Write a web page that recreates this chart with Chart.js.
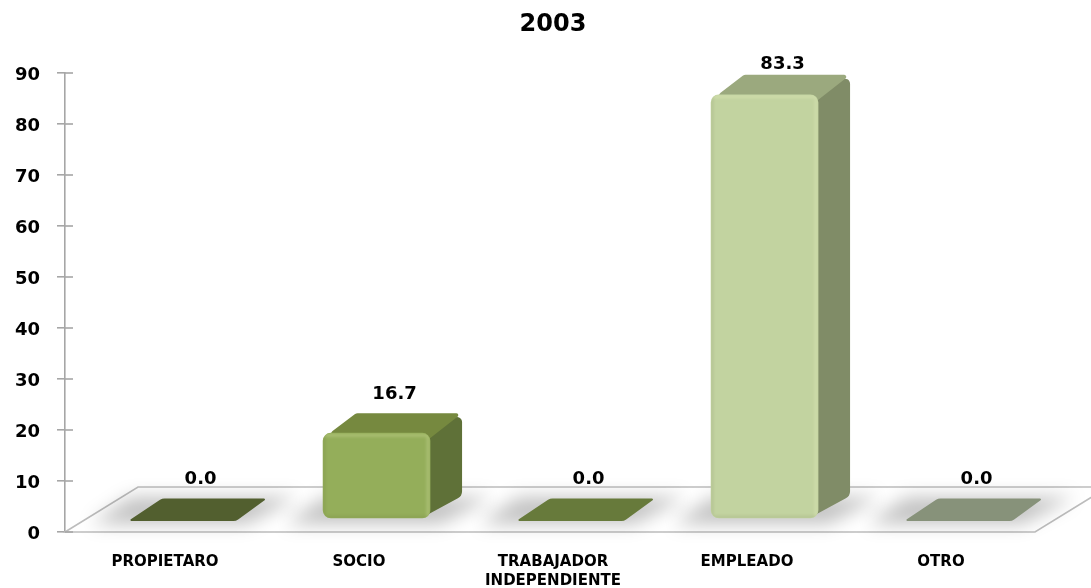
<!DOCTYPE html>
<html>
<head>
<meta charset="utf-8">
<script src="https://cdn.jsdelivr.net/npm/chart.js@4/dist/chart.umd.min.js"></script>
<style>html,body{margin:0;padding:0;background:#fff}canvas{display:block;filter:blur(0.35px)}</style>
</head>
<body>
<canvas id="c" width="1091" height="588"></canvas>
<script>
const titleText = '2003';
const categories = ['PROPIETARO', 'SOCIO', ['TRABAJADOR', 'INDEPENDIENTE'], 'EMPLEADO', 'OTRO'];
const values = [0.0, 16.7, 0.0, 83.3, 0.0];
const frontColors = ['#525F2F', '#94AE5A', '#677A3B', '#C2D3A0', '#87927A'];
const topColors = ['#525F2F', '#76893F', '#677A3B', '#9BA97E', '#87927A'];
const sideColors = ['#525F2F', '#5F7138', '#677A3B', '#808C67', '#87927A'];

const FONT = '"DejaVu Sans", sans-serif';
const DEPTH_X = 32, DEPTH_Y = 20;

function roundedPoly(ctx, pts, radii) {
  ctx.beginPath();
  const n = pts.length;
  ctx.moveTo((pts[0][0] + pts[n - 1][0]) / 2, (pts[0][1] + pts[n - 1][1]) / 2);
  for (let i = 0; i < n; i++) {
    const a = pts[i], b = pts[(i + 1) % n];
    ctx.arcTo(a[0], a[1], b[0], b[1], radii[i]);
  }
  ctx.closePath();
}

const floorPlugin = {
  id: 'floor3d',
  afterLayout(chart) {
    chart.titleBlock.left += 3;
    chart.titleBlock.right += 3;
  },
  beforeDatasetsDraw(chart) {
    const ctx = chart.ctx, area = chart.chartArea;
    const y = chart.scales.y;
    const y0 = y.getPixelForValue(0);
    const yBack = y0 - 45, dx = 73;
    ctx.save();
    ctx.strokeStyle = '#BDBDBD';
    ctx.lineWidth = 1.6;
    ctx.beginPath();
    ctx.moveTo(area.left, y0);
    ctx.lineTo(area.left + dx, yBack);
    ctx.lineTo(area.right + dx, yBack);
    ctx.lineTo(area.right, y0);
    ctx.closePath();
    ctx.stroke();
    ctx.strokeStyle = '#A6A6A6';
    y.ticks.forEach(t => {
      const p = y.getPixelForValue(t.value);
      ctx.beginPath();
      ctx.moveTo(area.left, p);
      ctx.lineTo(area.left + 8, p);
      ctx.stroke();
    });
    ctx.restore();

    const bars = chart.getDatasetMeta(0).data;
    bars.forEach(el => {
      const p = el.getProps(['x', 'base', 'width'], true);
      const L = p.x - p.width / 2, R = p.x + p.width / 2;
      ctx.save();
      ctx.filter = 'blur(9px)';
      ctx.fillStyle = 'rgba(0,0,0,0.24)';
      ctx.beginPath();
      ctx.moveTo(L - 38, p.base + 6);
      ctx.lineTo(R + 10, p.base + 6);
      ctx.lineTo(R + DEPTH_X + 30, p.base - DEPTH_Y - 1);
      ctx.lineTo(L + 2, p.base - DEPTH_Y - 1);
      ctx.closePath();
      ctx.fill();
      ctx.restore();
    });

    bars.forEach((el, i) => {
      const p = el.getProps(['x', 'y', 'base', 'width'], true);
      const L = p.x - p.width / 2, R = p.x + p.width / 2;
      if (values[i] === 0) {
        const f = p.base + 3;
        ctx.fillStyle = frontColors[i];
        roundedPoly(ctx, [[L - 1, f], [L + 33, f - 22.5], [R + 31, f - 22.5], [R, f]], [1, 8, 1, 8]);
        ctx.fill();
        return;
      }
      const T = p.y, B = p.base;
      ctx.fillStyle = sideColors[i];
      roundedPoly(ctx, [[R - 6, T + 3], [R + DEPTH_X, T - DEPTH_Y], [R + DEPTH_X, B - DEPTH_Y - 2], [R - 5, B - 2]], [1, 5, 8, 1]);
      ctx.fill();
      ctx.fillStyle = topColors[i];
      roundedPoly(ctx, [[L, T + 5], [L + DEPTH_X + 1, T - DEPTH_Y], [R + DEPTH_X, T - DEPTH_Y], [R, T + 5]], [4, 5, 2, 1]);
      ctx.fill();
    });
  },
  afterDatasetsDraw(chart) {
    const ctx = chart.ctx;
    const bars = chart.getDatasetMeta(0).data;
    bars.forEach((el, i) => {
      const p = el.getProps(['x', 'y', 'base', 'width'], true);
      const L = p.x - p.width / 2, R = p.x + p.width / 2;
      if (values[i] !== 0) {
        const T = p.y, B = p.base, W = R - L, H = B - T;
        ctx.save();
        ctx.beginPath();
        ctx.roundRect(L, T, W, H, 8);
        ctx.clip();
        ctx.filter = 'blur(1.5px)';
        ctx.lineWidth = 3;
        ctx.strokeStyle = 'rgba(255,255,210,0.22)';
        ctx.beginPath();
        ctx.moveTo(L, T + 2);
        ctx.lineTo(R - 2, T + 2);
        ctx.lineTo(R - 2, B);
        ctx.stroke();
        ctx.lineWidth = 2;
        ctx.strokeStyle = 'rgba(50,60,20,0.12)';
        ctx.beginPath();
        ctx.moveTo(L + 1, T);
        ctx.lineTo(L + 1, B - 1);
        ctx.lineTo(R, B - 1);
        ctx.stroke();
        ctx.restore();
      }
      const topBack = values[i] === 0 ? p.base + 3 - 22.5 : p.y - DEPTH_Y;
      const ly = Math.max(topBack - 19, chart.chartArea.top - 9);
      ctx.save();
      ctx.fillStyle = '#000';
      ctx.font = 'bold 18px ' + FONT;
      ctx.textAlign = 'center';
      ctx.textBaseline = 'middle';
      ctx.fillText(values[i].toFixed(1), p.x + 18, ly);
      ctx.restore();
    });
  }
};

new Chart(document.getElementById('c').getContext('2d'), {
  type: 'bar',
  data: {
    labels: categories,
    datasets: [{
      data: categories.map((_, i) => ({ x: i, y: values[i] })),
      xAxisID: 'xBar',
      yAxisID: 'yBar',
      backgroundColor: c => values[c.dataIndex] === 0 ? 'rgba(0,0,0,0)' : frontColors[c.dataIndex],
      borderRadius: 8,
      borderSkipped: false,
      barThickness: 107
    }]
  },
  options: {
    responsive: false,
    animation: false,
    layout: { padding: { left: 0, right: 56, top: 0, bottom: 0 } },
    plugins: {
      legend: { display: false },
      tooltip: { enabled: false },
      title: {
        display: true,
        text: titleText,
        fullSize: false,
        color: '#000',
        font: { family: FONT, size: 24, weight: 'bold' },
        padding: { top: 10, bottom: 34.2 }
      }
    },
    scales: {
      x: {
        type: 'category',
        position: 'bottom',
        offset: true,
        afterFit(s) { s.height = 56; s.paddingLeft = 0; s.paddingRight = 0; },
        grid: { display: false, drawTicks: false },
        border: { display: false },
        ticks: {
          color: '#000',
          maxRotation: 0,
          autoSkip: false,
          padding: 20,
          labelOffset: 3,
          font: { family: FONT, size: 15, weight: 'bold', lineHeight: 1.3 }
        }
      },
      y: {
        type: 'linear',
        position: 'left',
        min: 0,
        max: 90,
        afterFit(s) { s.width = 65; s.paddingTop = 0; s.paddingBottom = 0; },
        grid: { display: true, drawOnChartArea: false, drawTicks: true, tickLength: 8, color: '#A6A6A6', lineWidth: 1.6 },
        border: { display: true, color: '#A6A6A6', width: 1.6 },
        ticks: {
          stepSize: 10,
          color: '#000',
          padding: 17,
          labelOffset: 2,
          font: { family: FONT, size: 18, weight: 'bold' }
        }
      },
      xBar: {
        type: 'linear',
        axis: 'x',
        display: false,
        offset: false,
        grid: { offset: false },
        min: -0.606,
        max: 4.394
      },
      yBar: {
        type: 'linear',
        axis: 'y',
        display: false,
        min: -2.75,
        max: 87.6
      }
    }
  },
  plugins: [floorPlugin]
});
</script>
</body>
</html>
